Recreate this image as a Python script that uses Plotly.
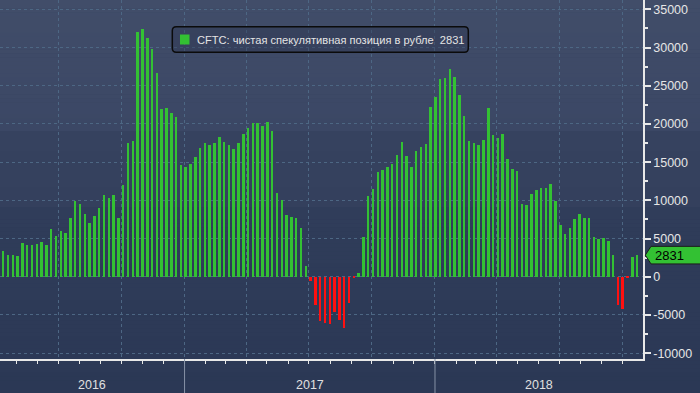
import plotly.graph_objects as go
import pandas as pd

# ---- data (weekly CFTC net speculative position in RUB, contracts) ----
START_DATE = "2016-04-12"
VALUES = [
    3400, 2880, 2880, 2750, 4450, 4190, 4190, 4320, 4580, 4190, 6280, 5360, 6020, 5760, 7720, 9940, 9550,
    8240, 7060, 7980, 9030, 10730, 10330, 10730, 7720, 12030, 17530, 17790, 32050, 32440, 31260, 29820, 26680, 21970,
    22110, 21450, 20930, 14650, 14390, 14780, 15700, 16870, 17530, 17270, 17530, 18310, 17660, 17270, 16740, 17530,
    18700, 19490, 20140, 20140, 19750, 20270, 19100, 10990, 10070, 8110, 7850, 7720, 6410, 1440,
    -520, -3700, -5840, -6060, -6230, -4670, -5710, -6760, -3490, -150,
    520, 5230, 10590, 11510, 13730, 14000, 14390, 14780, 15960, 17660,
    15870, 14390, 16480, 17000, 17400, 22240, 23540, 25900, 26030, 27210, 26160, 23810, 21060, 17790, 17530, 17270,
    17920, 22110, 18570, 18180, 18700, 15430, 14130, 13860, 9550, 9420, 10860, 11380, 11640, 11640, 12160, 9940,
    6800, 5620, 6410, 7590, 8240, 7720, 7720, 5230, 4970, 5100, 4710, 2880, -3710, -4190, -100, 2620, 2831,
]
DATES = pd.date_range(START_DATE, periods=len(VALUES), freq="7D")
SERIES_NAME = "CFTC: чистая спекулятивная позиция в рубле"
YEARS = ["2016", "2017", "2018"]
Y_TICKS = [-10000, -5000, 0, 5000, 10000, 15000, 20000, 25000, 30000, 35000]
Y_TICK_LABELS = [str(v) for v in Y_TICKS]

X_RANGE = [pd.Timestamp("2016-04-07"), pd.Timestamp("2018-10-31 04:00")]
Y_RANGE = [-10760, 36220]

GREEN = "#33c133"
RED = "#ff1010"
GRID = "#4d6784"
FONT = "Liberation Sans"

W, H = 700, 393
ML, MR, MT, MB = 0, 57, 0, 34
PW, PH = W - ML - MR, H - MT - MB

def px_x(p):
    return (p - ML) / PW

def px_y(p):
    return 1 - (p - MT) / PH

fig = go.Figure()
fig.add_bar(
    x=DATES, y=VALUES,
    marker=dict(color=[GREEN if v >= 0 else RED for v in VALUES], line=dict(width=0)),
    width=2.9 * 86400000,
    name=SERIES_NAME,
    showlegend=False,
)

shapes = []
# background gradient bands
def hexrgb(h):
    h = h.lstrip("#")
    return tuple(int(h[i:i + 2], 16) for i in (0, 2, 4))

segments = [(0, 131, "#414d69", "#3b4765"), (131, 207, "#36425f", "#34405d"), (207, 393, "#303d5a", "#2b3855")]
for y0, y1, c0, c1 in segments:
    a, b = hexrgb(c0), hexrgb(c1)
    n = max(1, (y1 - y0) // 4)
    for i in range(n):
        t = i / max(1, n - 1)
        col = "rgb(%d,%d,%d)" % tuple(round(a[k] + (b[k] - a[k]) * t) for k in range(3))
        ya = y0 + (y1 - y0) * i / n
        yb = y0 + (y1 - y0) * (i + 1) / n
        shapes.append(dict(type="rect", xref="paper", yref="paper", layer="below",
                           x0=px_x(-2), x1=px_x(W + 2), y0=px_y(yb + 0.5), y1=px_y(ya),
                           fillcolor=col, line=dict(width=0)))

# year separators below axis
for yr in YEARS[1:]:
    shapes.append(dict(type="line", xref="x", yref="paper", x0=yr + "-01-01", x1=yr + "-01-01",
                       y0=0, y1=px_y(H + 2), line=dict(color="#8792a6", width=1)))

# legend box with rounded corners
lx0, lx1, lyt, lyb = px_x(172.3), px_x(468.3), px_y(26.7), px_y(52.3)
rx, ry = 4 / PW, 4 / PH
path = (f"M {lx0+rx},{lyt} L {lx1-rx},{lyt} Q {lx1},{lyt} {lx1},{lyt-ry} "
        f"L {lx1},{lyb+ry} Q {lx1},{lyb} {lx1-rx},{lyb} L {lx0+rx},{lyb} "
        f"Q {lx0},{lyb} {lx0},{lyb+ry} L {lx0},{lyt-ry} Q {lx0},{lyt} {lx0+rx},{lyt} Z")
shapes.append(dict(type="path", xref="paper", yref="paper", path=path,
                   fillcolor="rgba(40,50,75,0.35)", line=dict(color="#0b0b0b", width=1.5)))
shapes.append(dict(type="rect", xref="paper", yref="paper", x0=px_x(180), x1=px_x(189.5),
                   y0=px_y(44.5), y1=px_y(34.5), fillcolor=GREEN, line=dict(width=0)))

# last value pennant on right axis
last = VALUES[-1]
hh = 1150
tip, bl, rr = px_x(645.3), px_x(651), px_x(W + 2)
shapes.append(dict(type="path", xref="paper", yref="y",
                   path=f"M {tip},{last} L {bl},{last+hh} L {rr},{last+hh} L {rr},{last-hh} L {bl},{last-hh} Z",
                   fillcolor=GREEN, line=dict(color="#1c1c1c", width=1)))

annotations = []
annotations.append(dict(xref="paper", yref="paper", x=px_x(195), y=px_y(40), xanchor="left", yanchor="middle",
                        text=SERIES_NAME + "\u00a0 " + str(last), showarrow=False,
                        font=dict(family=FONT, size=11.1, color="#e4e4e4")))
annotations.append(dict(xref="paper", yref="y", x=px_x(652.5), y=last, xanchor="left", yanchor="middle",
                        text=str(last), showarrow=False, font=dict(family=FONT, size=13, color="#000000")))

# year labels centred in visible part of each year
for yr in YEARS:
    a = max(pd.Timestamp(yr + "-01-01"), X_RANGE[0])
    b = min(pd.Timestamp(str(int(yr) + 1) + "-01-01"), X_RANGE[1])
    mid = a + (b - a) / 2
    annotations.append(dict(xref="x", yref="paper", x=mid, y=px_y(385), xanchor="center", yanchor="middle",
                            text=yr, showarrow=False, font=dict(family=FONT, size=12.5, color="#e0e0e0")))

fig.update_layout(
    width=W, height=H,
    margin=dict(l=ML, r=MR, t=MT, b=MB),
    paper_bgcolor="#2c3956",
    plot_bgcolor="rgba(0,0,0,0)",
    shapes=shapes,
    annotations=annotations,
    bargap=0,
    font=dict(family=FONT, color="#e6e6e6"),
)
fig.update_xaxes(
    type="date", range=X_RANGE,
    tick0="2016-01-01", dtick="M3",
    ticks="outside", ticklen=3, tickcolor="#e8e8e8", tickwidth=1,
    showticklabels=False,
    showgrid=True, gridcolor=GRID, griddash="3px,3px", gridwidth=1,
    showline=True, linecolor="#e8e8e8", linewidth=1.5,
    minor=dict(tick0="2016-01-01", dtick="M1", ticks="outside", ticklen=3, tickcolor="#e8e8e8", showgrid=False),
    zeroline=False,
)
fig.update_yaxes(
    side="right", range=Y_RANGE,
    tickmode="array", tickvals=Y_TICKS, ticktext=Y_TICK_LABELS,
    ticks="outside", ticklen=6, tickwidth=2, tickcolor="#e8e8e8",
    tickfont=dict(family=FONT, size=12.5, color="#e6e6e6"),
    showgrid=True, gridcolor=GRID, griddash="3px,3px", gridwidth=1,
    showline=True, linecolor="#e8e8e8", linewidth=1.5,
    minor=dict(tick0=0, dtick=2500, ticks="outside", ticklen=3, tickcolor="#e8e8e8", showgrid=False),
    zeroline=False,
)

fig.write_html("out.html", config={"displayModeBar": False},
               post_script="document.body.style.margin='0px';document.body.style.overflow='hidden';")
